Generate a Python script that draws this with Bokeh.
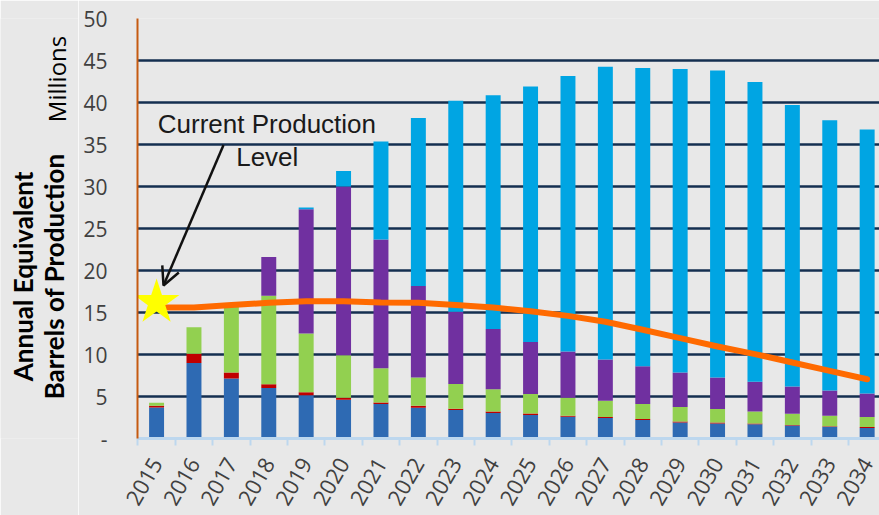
import math
from bokeh.plotting import figure
from bokeh.layouts import row
from bokeh.models import (ColumnDataSource, Range1d, FixedTicker, Label, Arrow, OpenHead)
from bokeh.core.properties import value
from bokeh.embed import file_html
from bokeh.resources import INLINE

years = list(range(2015, 2035))
year_labels = [str(y) for y in years]

# stacked series (millions of barrels), bottom to top
blue = [3.7, 9.0, 7.15, 6.0, 5.15, 4.6, 4.1, 3.65, 3.4, 3.05, 2.8, 2.6, 2.45, 2.2, 1.9, 1.8, 1.7, 1.55, 1.4, 1.25]
red = [0.2, 1.1, 0.7, 0.45, 0.35, 0.25, 0.2, 0.25, 0.15, 0.15, 0.17, 0.1, 0.12, 0.13, 0.12, 0.1, 0.08, 0.07, 0.07, 0.12]
green = [0.35, 3.15, 7.95, 10.55, 7.0, 5.05, 4.05, 3.35, 2.95, 2.65, 2.33, 2.15, 1.93, 1.77, 1.73, 1.6, 1.42, 1.33, 1.25, 1.18]
purple = [0, 0, 0, 4.6, 14.8, 20.1, 15.35, 10.9, 8.6, 7.2, 6.2, 5.5, 4.9, 4.5, 4.1, 3.75, 3.55, 3.25, 2.98, 2.8]
cyan = [0, 0, 0, 0, 0.2, 1.85, 11.65, 20.0, 25.1, 27.8, 30.4, 32.8, 34.85, 35.5, 36.15, 36.55, 35.7, 33.5, 32.2, 31.45]

# production level curve
production = [15.6, 15.6, 15.9, 16.15, 16.35, 16.35, 16.2, 16.15, 15.9, 15.6, 15.15, 14.6, 13.9, 12.95, 11.95, 10.95, 10.05, 9.05, 8.05, 7.05]

# current production level marker
current_year = [2015]
current_level = [16.2]

y_ticks = [0, 5, 10, 15, 20, 25, 30, 35, 40, 45, 50]
y_tick_labels = ["-", "5", "10", "15", "20", "25", "30", "35", "40", "45", "50"]

title_lines = ["Annual Equivalent", "Barrels of Production"]
units_label = "Millions"

series = ["blue", "red", "green", "purple", "cyan"]
colors = ["#2e6ab3", "#c00000", "#92d050", "#7030a0", "#00a5e3"]

src = ColumnDataSource(dict(year=years, blue=blue, red=red, green=green,
                            purple=purple, cyan=cyan))

BG = "#e8e8e8"
LEFT_W = 78

# ---- left strip holding the axis titles (frame aligned with the main chart) ----
side = figure(width=LEFT_W, height=515, output_backend="svg", toolbar_location=None,
              x_range=Range1d(0, LEFT_W), y_range=Range1d(0, 50),
              x_axis_type=None, y_axis_type=None, min_border=0,
              background_fill_color=BG, border_fill_color=BG)
side.outline_line_color = None
side.grid.visible = False
side.text(x=[22, 53], y=[19.3, 19.3], text=title_lines, angle=math.pi / 2,
          text_align="center", text_baseline="middle",
          text_font=value("Lato"), text_font_style="bold",
          text_font_size="26px", text_color="#000000")
side.text(x=[56], y=[42.8], text=[units_label], angle=math.pi / 2,
          text_align="center", text_baseline="middle",
          text_font=value("Open Sans"), text_font_size="24px",
          text_color="#000000")

# ---- main chart ----
p = figure(width=879 - LEFT_W, height=515, output_backend="svg", toolbar_location=None,
           x_range=Range1d(2014.49, 2034.33), y_range=Range1d(0, 50),
           min_border_left=137 - LEFT_W, min_border_right=0, min_border_top=18,
           min_border_bottom=77, background_fill_color=BG, border_fill_color=BG)
p.outline_line_color = None

p.vbar_stack(series, x="year", width=0.4, color=colors, source=src,
             line_color=None)

p.line(years, production, line_color="#ff6a00", line_width=6, line_cap="round",
       line_join="round")
p.scatter(current_year, current_level, marker="star", size=48,
          fill_color="#ffff00", line_color=None)

# grid
p.xgrid.visible = False
p.ygrid.ticker = FixedTicker(ticks=y_ticks[1:])
p.ygrid.grid_line_color = "#142f50"
p.ygrid.grid_line_width = 2.5
p.ygrid.level = "underlay"

# y axis
p.yaxis.ticker = FixedTicker(ticks=y_ticks)
p.yaxis.major_label_overrides = {t: l for t, l in zip(y_ticks, y_tick_labels)}
p.yaxis.axis_line_color = "#c55a11"
p.yaxis.axis_line_width = 2
p.yaxis.major_tick_line_color = None
p.yaxis.minor_tick_line_color = None
p.yaxis.major_tick_out = 0
p.yaxis.major_tick_in = 0
p.yaxis.major_label_standoff = 30
p.yaxis.major_label_text_font = "Open Sans"
p.yaxis.major_label_text_font_size = "21px"
p.yaxis.major_label_text_color = "#404040"

# x axis
p.xaxis.ticker = FixedTicker(ticks=years, minor_ticks=[y - 0.5 for y in years] + [years[-1] + 0.5])
p.xaxis.major_label_overrides = {y: l for y, l in zip(years, year_labels)}
p.xaxis.axis_line_color = "#bdd7ee"
p.xaxis.axis_line_width = 3
p.xaxis.major_tick_line_color = None
p.xaxis.major_tick_out = 0
p.xaxis.major_tick_in = 0
p.xaxis.minor_tick_line_color = "#bdd7ee"
p.xaxis.minor_tick_line_width = 2
p.xaxis.minor_tick_out = 7
p.xaxis.minor_tick_in = 0
p.xaxis.major_label_orientation = 1.05
p.xaxis.major_label_standoff = 14
p.xaxis.major_label_text_font = "Open Sans"
p.xaxis.major_label_text_font_size = "22px"
p.xaxis.major_label_text_color = "#404040"

# annotation
p.add_layout(Label(x=2017.95, y=37.46, text="Current Production",
                   text_align="center", text_baseline="middle",
                   text_font="Liberation Sans", text_font_size="26px",
                   text_color="#1a1a1a"))
p.add_layout(Label(x=2017.96, y=33.55, text="Level",
                   text_align="center", text_baseline="middle",
                   text_font="Liberation Sans", text_font_size="26px",
                   text_color="#1a1a1a"))
p.add_layout(Arrow(x_start=2016.79, y_start=34.95, x_end=2015.185, y_end=18.22,
                   line_color="#111111", line_width=2.5,
                   end=OpenHead(size=18, line_color="#111111", line_width=2.5)))

layout = row(side, p, spacing=0)
open("out.html", "w").write(file_html(layout, INLINE))
